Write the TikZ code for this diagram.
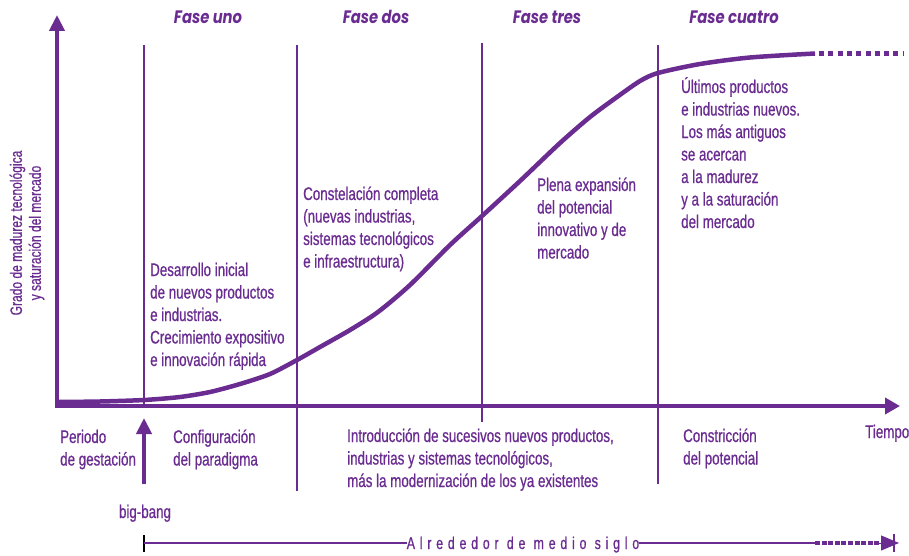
\documentclass[tikz,border=0pt]{standalone}
\usepackage{fontspec}
\setmainfont{Liberation Sans}[FakeStretch=0.73,FakeBold=0.7]
\newfontfamily\phasefont{Poppins}[FakeStretch=0.82]
\usetikzlibrary{arrows.meta}
\definecolor{pur}{RGB}{106,44,145}
\begin{document}
\begin{tikzpicture}[x=1pt,y=-1pt,
  every node/.style={text=pur, inner sep=0pt},
  body/.style={font=\fontsize{18.3}{22.5}\selectfont, align=left, anchor=base west},
  phase/.style={font=\phasefont\fontsize{18}{20}\selectfont\itshape\bfseries, anchor=base},
  axisline/.style={draw=pur, line width=4pt},
  vline/.style={draw=pur, line width=2pt},
  curveline/.style={draw=pur, line width=4.5pt, line join=round},
  thin/.style={draw=pur, line width=2pt}]
\useasboundingbox (0,0) rectangle (909,556);
% coordinates
\coordinate (O) at (57,406);
\coordinate (Ytop) at (57,15);
\coordinate (Xend) at (900,406);
\coordinate (v1t) at (144,45);  \coordinate (v1b) at (144,408);
\coordinate (v2t) at (297,45);  \coordinate (v2b) at (297,491);
\coordinate (v3t) at (482,43);  \coordinate (v3b) at (482,422);
\coordinate (v4t) at (658,45);  \coordinate (v4b) at (658,484);
\coordinate (bbb) at (144,484); \coordinate (bbt) at (144,418);
% vertical phase lines
\draw[vline] (v1t) -- (v1b);
\draw[vline] (v2t) -- (v2b);
\draw[vline] (v3t) -- (v3b);
\draw[vline] (v4t) -- (v4b);
% axes
\draw[axisline, -{Triangle[length=16pt,width=15pt]}] ([yshift=-2pt]O) -- (Ytop);
\draw[axisline, -{Triangle[length=15pt,width=16pt]}] ([xshift=-2pt]O) -- (Xend);
% curve
\draw[curveline] plot[smooth, tension=0.45] coordinates {
 (58,402) (100,401.5) (144,400) (180,397) (210,392) (240,384) (270,374) (297,360)
 (320,347) (350,330) (378,312) (410,285) (450,245) (482,216) (520,181) (560,143)
 (590,117) (617,97) (640,81) (658,73) (700,64) (750,57.5) (815,53.5)};
\coordinate (dotS) at (819,53.5);
\coordinate (dotE) at (903,53.5);
\draw[draw=pur, line width=5pt, dash pattern=on 5pt off 4.3pt] (dotS) -- (dotE);
% big bang arrow
\draw[draw=pur, line width=4pt, -{Triangle[length=16pt,width=15pt]}] (bbb) -- (bbt);
% phase titles
\node[phase] (f1) at (208,24) {Fase uno};
\node[phase] (f2) at (376,24) {Fase dos};
\node[phase] (f3) at (547,24) {Fase tres};
\node[phase] (f4) at (734,24) {Fase cuatro};
% y label
\node[font=\fontsize{16.5}{19}\selectfont, align=center, rotate=90] (ylab) at (27,233)
  {Grado de madurez tecnológica\\y saturación del mercado};
% body texts (anchored at baseline of last line)
\node[body] (t1) at (150,366) {Desarrollo inicial\\de nuevos productos\\e industrias.\\Crecimiento expositivo\\e innovación rápida};
\node[body] (t2) at (303,267.5) {Constelación completa\\(nuevas industrias,\\sistemas tecnológicos\\e infraestructura)};
\node[body] (t3) at (537,258.5) {Plena expansión\\del potencial\\innovativo y de\\mercado};
\node[body] (t4) at (681,228) {Últimos productos\\e industrias nuevos.\\Los más antiguos\\se acercan\\a la madurez\\y a la saturación\\del mercado};
\node[body] (b1) at (60,465.5) {Periodo\\de gestación};
\node[body] (b2) at (173,465.5) {Configuración\\del paradigma};
\node[body] (b3) at (347,487) {Introducción de sucesivos nuevos productos,\\industrias y sistemas tecnológicos,\\más la modernización de los ya existentes};
\node[body] (b4) at (683,464.5) {Constricción\\del potencial};
\node[body] (tiempo) at (865,438) {Tiempo};
\node[font=\fontsize{18.3}{22.5}\selectfont, anchor=base] (bb) at (145,518) {big-bang};
% half century line
\node[font=\fontsize{17}{20}\selectfont\addfontfeature{LetterSpace=28}, anchor=base] (siglo) at (523,549) {Alrededor de medio siglo};
\coordinate (hl) at (144,543);
\coordinate (hd) at (815,543);
\coordinate (he) at (899,543);
\coordinate (htk) at (894,543);
\draw[draw=black, line width=2pt] ([yshift=-8.5pt]hl) -- ([yshift=8.5pt]hl);
\draw[thin] (hl) -- (hl -| siglo.west);
\draw[thin] (hl -| siglo.east) -- (hd);
\draw[draw=pur, line width=4pt, dash pattern=on 5pt off 1.6pt] (hd) -- (879,543);
\draw[draw=pur, line width=1pt, -{Triangle[length=18pt,width=15pt]}] (879,543) -- (he);
\draw[draw=pur, line width=1.5pt] ([yshift=-9pt]htk) -- ([yshift=9pt]htk);
\end{tikzpicture}
\end{document}
